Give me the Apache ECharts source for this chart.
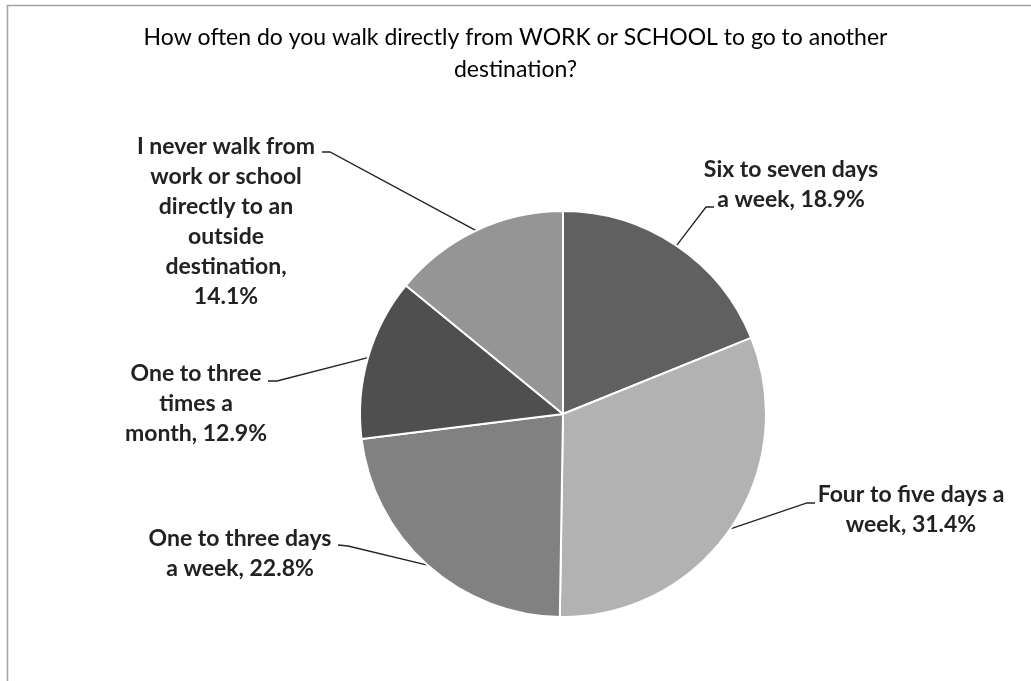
<!DOCTYPE html>
<html>
<head>
<meta charset="utf-8">
<script src="https://cdn.jsdelivr.net/npm/echarts@6/dist/echarts.min.js"></script>
<style>
  html, body { margin: 0; padding: 0; background: #fff; }
  #chart { width: 1031px; height: 681px; }
</style>
</head>
<body>
<div id="chart"></div>
<script>
// Survey answers, clockwise from 12 o'clock
const categories = [
  'Six to seven days\na week',
  'Four to five days a\nweek',
  'One to three days\na week',
  'One to three\ntimes a\nmonth',
  'I never walk from\nwork or school\ndirectly to an\noutside\ndestination'
];
const shares = [18.9, 31.4, 22.8, 12.9, 14.1];
// what sits between the answer and its percentage in each label
const valueBreaks = [' ', ' ', ' ', ' ', '\n'];
const sliceColors = ['#606060', '#b2b2b2', '#818181', '#4f4f4f', '#959595'];

// Label block centres and the elbow / end of each leader line
const labelPlace = [
  { x: 791, y: 185, elbow: [706, 207], end: [714, 207] },
  { x: 911, y: 510, elbow: [807, 503], end: [815, 503] },
  { x: 240, y: 554, elbow: [348, 546], end: [338, 545] },
  { x: 196, y: 404, elbow: [277, 381], end: [268, 381] },
  { x: 226, y: 222, elbow: [330, 152], end: [322, 152] }
];

const CX = 563, CY = 414, R = 203;
const total = shares.reduce((a, b) => a + b, 0);
// mid angle of each slice (radians, clockwise from top)
const midAngles = [];
let acc = 0;
shares.forEach(v => {
  midAngles.push(((acc + v / 2) / total) * Math.PI * 2);
  acc += v;
});

const chart = echarts.init(document.getElementById('chart'), null, { renderer: 'canvas' });

chart.setOption({
  backgroundColor: '#ffffff',
  animation: false,
  title: {
    text: 'How often do you walk directly from WORK or SCHOOL to go to another\ndestination?',
    left: 'center',
    top: 17,
    textStyle: {
      fontFamily: 'Lato',
      fontWeight: 'normal',
      fontSize: 23,
      lineHeight: 32,
      color: '#000000'
    }
  },
  graphic: [{
    type: 'rect',
    silent: true,
    shape: { x: 7.5, y: 5.5, width: 1200, height: 1000 },
    style: { fill: 'none', stroke: '#a3a3a3', lineWidth: 1.5 }
  }],
  series: [{
    type: 'pie',
    center: [CX, CY],
    radius: R,
    startAngle: 90,
    clockwise: true,
    avoidLabelOverlap: false,
    itemStyle: { borderColor: '#ffffff', borderWidth: 2 },
    label: {
      show: true,
      formatter: p => p.name + ',' + valueBreaks[p.dataIndex] + p.value.toFixed(1) + '%',
      fontFamily: 'Lato',
      fontWeight: 'bold',
      fontSize: 23,
      lineHeight: 30,
      color: '#222222',
      align: 'center'
    },
    labelLine: {
      show: true,
      lineStyle: { color: '#222222', width: 1.3 }
    },
    labelLayout: function (params) {
      const i = params.dataIndex;
      const pl = labelPlace[i];
      const a = midAngles[i];
      const anchor = [CX + R * Math.sin(a), CY - R * Math.cos(a)];
      return {
        x: pl.x,
        y: pl.y,
        align: 'center',
        verticalAlign: 'middle',
        labelLinePoints: [anchor, pl.elbow, pl.end]
      };
    },
    data: categories.map((name, i) => ({
      name: name,
      value: shares[i],
      itemStyle: { color: sliceColors[i] }
    }))
  }]
});
</script>
</body>
</html>
